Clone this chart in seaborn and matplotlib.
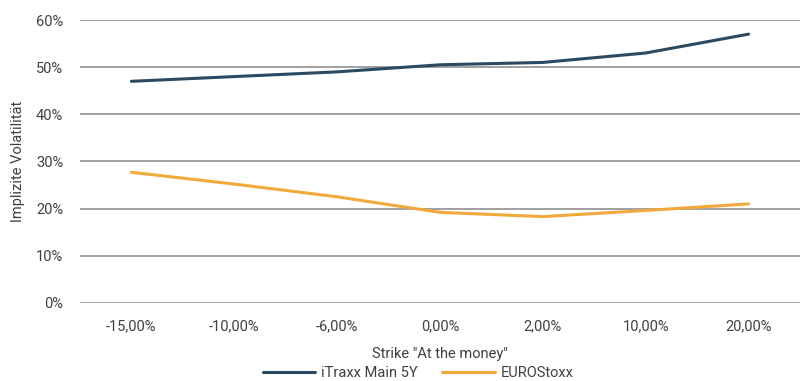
import matplotlib
matplotlib.use("Agg")
import matplotlib.pyplot as plt
import seaborn as sns
import pandas as pd
from matplotlib.ticker import PercentFormatter

strikes = ["-15,00%", "-10,00%", "-6,00%", "0,00%", "2,00%", "10,00%", "20,00%"]
itraxx = [47.0, 48.0, 49.0, 50.5, 51.0, 53.0, 57.0]
eurostoxx = [27.7, 25.2, 22.5, 19.2, 18.3, 19.6, 21.0]

df = pd.DataFrame({
    "Strike": strikes * 2,
    "Vol": itraxx + eurostoxx,
    "Serie": ["iTraxx Main 5Y"] * len(strikes) + ["EUROStoxx"] * len(strikes),
})
df["pos"] = list(range(len(strikes))) * 2

sns.set_style("white")
plt.rcParams["font.family"] = ["Roboto", "DejaVu Sans"]

fig = plt.figure(figsize=(8.04, 3.81), dpi=100)
ax = fig.add_axes([0.0995, 0.205, 0.8955, 0.7425])

palette = {"iTraxx Main 5Y": "#2b4a62", "EUROStoxx": "#f2a93b"}
sns.lineplot(data=df, x="pos", y="Vol", hue="Serie", palette=palette,
             linewidth=2.2, ax=ax, legend=True)

ax.set_xlim(-0.5, len(strikes) - 0.5)
ax.set_ylim(0, 60)
ax.set_yticks(range(0, 61, 10))
ax.yaxis.set_major_formatter(PercentFormatter(decimals=0))
ax.set_xticks(range(len(strikes)))
ax.set_xticklabels(strikes)
ax.grid(axis="y", color="#a0a0a0", linewidth=1.4)
ax.set_axisbelow(True)
for s in ax.spines.values():
    s.set_visible(False)
ax.tick_params(axis="both", length=0, labelsize=10.5, colors="#404040")
ax.tick_params(axis="x", pad=12)
ax.tick_params(axis="y", pad=12)
ax.set_xlabel('Strike "At the money"', fontsize=10.5, color="#404040", labelpad=10)
ax.set_ylabel("Implizite Volatilität", fontsize=10.5, color="#404040", labelpad=8)

handles, labels = ax.get_legend_handles_labels()
ax.legend(handles, labels, loc="upper center",
          ncol=2, frameon=False, fontsize=10.5, handlelength=3.6, handletextpad=0.4,
          columnspacing=1.7, borderaxespad=0, borderpad=0, labelcolor="#404040")
leg = ax.get_legend()
leg.set_bbox_to_anchor((418 / 804, 1 - 366 / 381), transform=fig.transFigure)

fig.savefig("out.png", dpi=100)
